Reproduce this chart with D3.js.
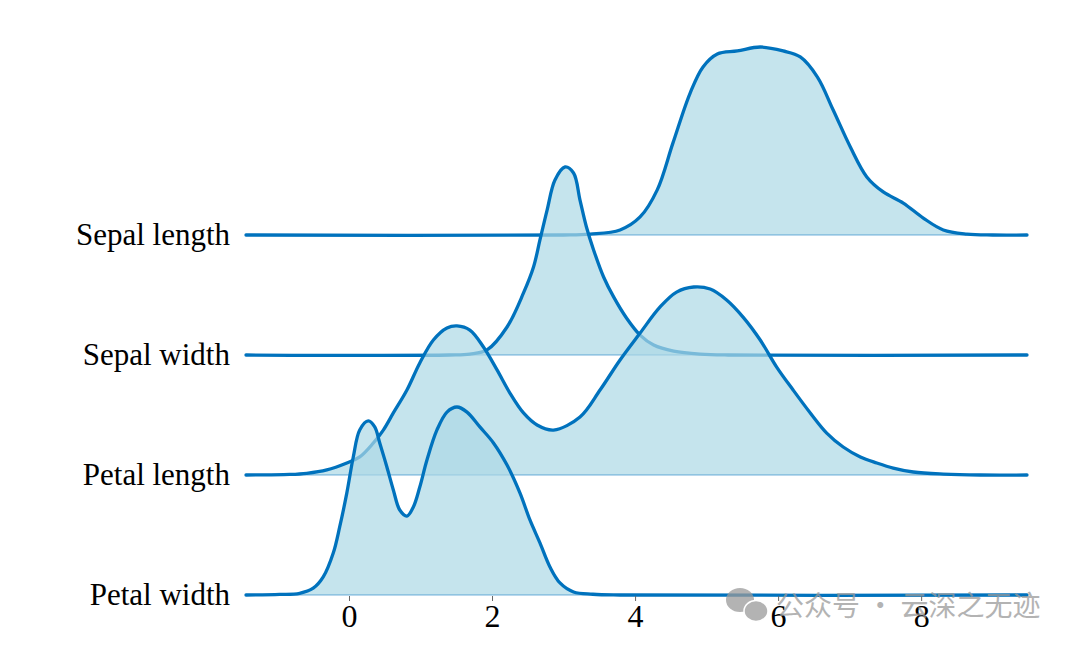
<!DOCTYPE html>
<html>
<head>
<meta charset="utf-8">
<script src="https://cdn.jsdelivr.net/npm/d3@7"></script>
<style>
  html, body { margin: 0; padding: 0; background: #fff; }
  svg { display: block; }
</style>
</head>
<body>
<svg id="chart" width="1080" height="649"></svg>
<script>
// ---- data (heights are relative density, max = 1) ----
const categories = ["Sepal length", "Sepal width", "Petal length", "Petal width"];
const xTicks = [0, 2, 4, 6, 8];

const sepalLengthX = [-1.44, 3.0, 3.37, 3.79, 4.07, 4.31, 4.53, 4.77, 4.95, 5.15, 5.43, 5.75, 6.07, 6.31, 6.55, 6.77, 7.01, 7.24, 7.47, 7.75, 8.03, 8.31, 8.64, 9.0, 9.48];
const sepalLengthY = [0, 0, 0.005, 0.027, 0.096, 0.24, 0.49, 0.755, 0.894, 0.963, 0.979, 1.0, 0.979, 0.947, 0.84, 0.665, 0.468, 0.309, 0.229, 0.17, 0.09, 0.027, 0.005, 0, 0];

const sepalWidthX = [-1.44, 1.4, 1.69, 1.93, 2.21, 2.44, 2.58, 2.67, 2.77, 2.88, 3.02, 3.14, 3.23, 3.32, 3.42, 3.56, 3.70, 3.88, 4.07, 4.26, 4.54, 4.91, 5.3, 9.48];
const sepalWidthY = [0, 0, 0.005, 0.027, 0.149, 0.33, 0.468, 0.612, 0.771, 0.931, 1.0, 0.968, 0.824, 0.681, 0.559, 0.415, 0.309, 0.197, 0.106, 0.053, 0.021, 0.005, 0, 0];

const petalLengthX = [-1.44, -0.83, -0.59, -0.31, -0.03, 0.15, 0.34, 0.48, 0.62, 0.81, 0.99, 1.18, 1.37, 1.51, 1.69, 1.88, 2.07, 2.25, 2.44, 2.63, 2.86, 3.23, 3.51, 3.79, 4.07, 4.35, 4.58, 4.82, 5.05, 5.28, 5.51, 5.75, 5.98, 6.21, 6.45, 6.68, 6.91, 7.15, 7.38, 7.61, 7.89, 8.31, 8.83, 9.48];
const petalLengthY = [0, 0.003, 0.009, 0.027, 0.064, 0.096, 0.17, 0.239, 0.33, 0.452, 0.596, 0.718, 0.782, 0.793, 0.771, 0.681, 0.559, 0.436, 0.33, 0.266, 0.239, 0.309, 0.452, 0.612, 0.755, 0.894, 0.973, 1.0, 0.989, 0.931, 0.84, 0.718, 0.574, 0.452, 0.33, 0.223, 0.149, 0.096, 0.064, 0.037, 0.016, 0.005, 0, 0];

const petalWidthX = [-1.44, -0.97, -0.69, -0.50, -0.36, -0.22, -0.13, -0.03, 0.06, 0.15, 0.27, 0.36, 0.43, 0.53, 0.62, 0.71, 0.81, 0.90, 0.99, 1.09, 1.23, 1.37, 1.51, 1.65, 1.83, 2.02, 2.21, 2.39, 2.53, 2.67, 2.81, 2.95, 3.14, 3.41, 3.79, 9.48];
const petalWidthY = [0, 0.003, 0.009, 0.036, 0.096, 0.223, 0.362, 0.543, 0.734, 0.878, 0.926, 0.894, 0.809, 0.681, 0.559, 0.452, 0.42, 0.468, 0.574, 0.718, 0.878, 0.973, 1.0, 0.973, 0.894, 0.809, 0.691, 0.543, 0.399, 0.277, 0.149, 0.064, 0.016, 0.004, 0, 0];

const seriesX = [sepalLengthX, sepalWidthX, petalLengthX, petalWidthX];
const seriesY = [sepalLengthY, sepalWidthY, petalLengthY, petalWidthY];

// ---- drawing ----
const svg = d3.select("#chart");
const x = d3.scaleLinear().domain([-1.44, 9.48]).range([246, 1027]);
const y = d3.scalePoint().domain(categories).range([235, 595]);
const h = d3.scaleLinear().domain([0, 1]).range([0, 188]);

const lineColor = "#0072BD";
const fillColor = "rgba(173,216,230,0.7)";
const curve = d3.curveCatmullRom.alpha(0.5);

categories.forEach((cat, i) => {
  const pts = seriesX[i].map((v, j) => ({ x: v, y: seriesY[i][j] }));
  const base = y(cat);
  const top = d => Math.min(base, base - h(d.y));
  const area = d3.area().x(d => x(d.x)).y0(base).y1(top).curve(curve);
  const line = d3.line().x(d => x(d.x)).y(top).curve(curve);
  const g = svg.append("g").attr("class", "ridge");
  g.append("path").datum(pts).attr("d", area)
    .attr("fill", fillColor).attr("stroke", "none");
  g.append("line")
    .attr("x1", x(-1.44)).attr("x2", x(9.48))
    .attr("y1", base).attr("y2", base)
    .attr("stroke", lineColor).attr("stroke-opacity", 0.55).attr("stroke-width", 1.2);
  g.append("path").datum(pts).attr("d", line)
    .attr("fill", "none").attr("stroke", lineColor)
    .attr("stroke-width", 3.3).attr("stroke-linecap", "round").attr("stroke-linejoin", "round");
});

// category labels
svg.append("g").selectAll("text").data(categories).join("text")
  .attr("x", 230).attr("y", d => y(d) + 10)
  .attr("text-anchor", "end")
  .attr("font-family", "'Liberation Serif', 'Times New Roman', serif")
  .attr("font-size", 31)
  .attr("fill", "#000")
  .text(d => d);

// x axis
const xAxis = d3.axisBottom(x).tickValues(xTicks).tickSize(5).tickPadding(3).tickFormat(d3.format("d"));
const ax = svg.append("g").attr("transform", "translate(0,596)").call(xAxis);
ax.select(".domain").remove();
ax.selectAll(".tick line").attr("stroke", "#666").attr("stroke-width", 1);
ax.selectAll(".tick text")
  .attr("font-family", "'Liberation Serif', 'Times New Roman', serif")
  .attr("font-size", 32).attr("fill", "#000");

// watermark
const wm = svg.append("g").attr("opacity", 0.75);
wm.append("ellipse").attr("cx", 740).attr("cy", 600).attr("rx", 14).attr("ry", 12).attr("fill", "#9a9a9a");
wm.append("ellipse").attr("cx", 756).attr("cy", 611).attr("rx", 12).attr("ry", 10.5).attr("fill", "#9a9a9a").attr("stroke", "#fff").attr("stroke-width", 1.5);
wm.append("text").attr("x", 776).attr("y", 616)
  .attr("font-family", "'Noto Sans CJK SC', sans-serif")
  .attr("font-size", 28).attr("fill", "#9a9a9a")
  .text("公众号 · 云深之无迹");
</script>
</body>
</html>
